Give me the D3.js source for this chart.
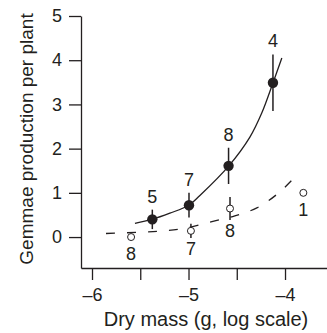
<!DOCTYPE html>
<html>
<head>
<meta charset="utf-8">
<script src="https://cdn.jsdelivr.net/npm/d3@7"></script>
<style>
  body { margin: 0; background: #fff; }
  text { font-family: "Liberation Sans", Arial, sans-serif; fill: #231f20; }
</style>
</head>
<body>
<div id="chart"></div>
<script>
// filled points (solid fit)
var filledX = [-5.375, -4.995, -4.585, -4.125];
var filledY = [0.40, 0.72, 1.61, 3.49];
var filledErr = [0.22, 0.28, 0.41, 0.64];
var filledN = ["5", "7", "8", "4"];

// open points (dashed fit)
var openX = [-5.595, -4.975, -4.57, -3.81];
var openY = [0.0, 0.14, 0.645, 1.0];
var openErr = [0.04, 0.16, 0.26, 0];
var openN = ["8", "7", "8", "1"];

// fitted curves
var solidX = [-5.555, -5.379, -5.193, -4.996, -4.882, -4.582, -4.364, -4.240, -4.126, -4.033];
var solidY = [0.31, 0.40, 0.54, 0.72, 0.94, 1.61, 2.26, 2.81, 3.48, 4.05];
var dashX = [-5.855, -5.503, -5.265, -5.037, -4.758, -4.520, -4.292, -4.065, -3.857];
var dashY = [0.08, 0.11, 0.14, 0.20, 0.35, 0.48, 0.66, 1.00, 1.45];

var xTicks = [-6, -5.5, -5, -4.5, -4];
var yTicks = [0, 1, 2, 3, 4, 5];

var W = 327, H = 333;
var ink = "#231f20";

var svg = d3.select("#chart").append("svg")
  .attr("width", W)
  .attr("height", H);

var x = d3.scaleLinear().domain([-6.114, -3.565]).range([81, 327]);
var y = d3.scaleLinear().domain([-0.70, 5]).range([268, 16]);

var axisY = d3.axisLeft(y)
  .tickValues(yTicks)
  .tickSize(12)
  .tickSizeOuter(0)
  .tickPadding(7)
  .tickFormat(d3.format("d"));

var axisX = d3.axisBottom(x)
  .tickValues(xTicks)
  .tickSize(12)
  .tickSizeOuter(0)
  .tickPadding(8)
  .tickFormat(function(d) {
    return Number.isInteger(d) ? "\u2013" + Math.abs(d) : "";
  });

var gy = svg.append("g").attr("transform", "translate(81,0)").call(axisY);
var gx = svg.append("g").attr("transform", "translate(0,268)").call(axisX);

[gx, gy].forEach(function(g) {
  g.selectAll("path, line").attr("stroke", ink).attr("stroke-width", 1.3);
  g.selectAll("text").style("font-size", "18px").attr("fill", ink);
});

// axis titles
svg.append("text")
  .attr("x", 206)
  .attr("y", 326)
  .attr("text-anchor", "middle")
  .style("font-size", "20px")
  .text("Dry mass (g, log scale)");

svg.append("text")
  .attr("transform", "translate(33,139) rotate(-90)")
  .attr("text-anchor", "middle")
  .style("font-size", "19px")
  .text("Gemmae production per plant");

var line = d3.line()
  .x(function(d) { return x(d[0]); })
  .y(function(d) { return y(d[1]); })
  .curve(d3.curveCatmullRom);

svg.append("path")
  .datum(d3.zip(solidX, solidY))
  .attr("fill", "none")
  .attr("stroke", ink)
  .attr("stroke-width", 1.3)
  .attr("d", line);

svg.append("path")
  .datum(d3.zip(dashX, dashY))
  .attr("fill", "none")
  .attr("stroke", ink)
  .attr("stroke-width", 1.3)
  .attr("stroke-dasharray", "9,12")
  .attr("d", line);

var filled = filledX.map(function(v, i) {
  return { x: v, y: filledY[i], e: filledErr[i], n: filledN[i] };
});
var open = openX.map(function(v, i) {
  return { x: v, y: openY[i], e: openErr[i], n: openN[i] };
});

// error bars
svg.selectAll(".err").data(filled.concat(open)).enter().append("line")
  .attr("x1", function(d) { return x(d.x); })
  .attr("x2", function(d) { return x(d.x); })
  .attr("y1", function(d) { return y(d.y + d.e); })
  .attr("y2", function(d) { return y(d.y - d.e); })
  .attr("stroke", ink)
  .attr("stroke-width", 1.5);

svg.selectAll(".ptf").data(filled).enter().append("circle")
  .attr("cx", function(d) { return x(d.x); })
  .attr("cy", function(d) { return y(d.y); })
  .attr("r", 5.2)
  .attr("fill", ink);

svg.selectAll(".pto").data(open).enter().append("circle")
  .attr("cx", function(d) { return x(d.x); })
  .attr("cy", function(d) { return y(d.y); })
  .attr("r", 3.5)
  .attr("fill", "#fff")
  .attr("stroke", ink)
  .attr("stroke-width", 1);

// sample sizes
svg.selectAll(".lblf").data(filled).enter().append("text")
  .attr("x", function(d) { return x(d.x); })
  .attr("y", function(d) { return y(d.y + d.e) - 7; })
  .attr("text-anchor", "middle")
  .style("font-size", "18px")
  .text(function(d) { return d.n; });

svg.selectAll(".lblo").data(open).enter().append("text")
  .attr("x", function(d) { return x(d.x); })
  .attr("y", function(d) { return Math.max(y(d.y) + 23, y(d.y - d.e) + 17); })
  .attr("text-anchor", "middle")
  .style("font-size", "18px")
  .text(function(d) { return d.n; });
</script>
</body>
</html>
